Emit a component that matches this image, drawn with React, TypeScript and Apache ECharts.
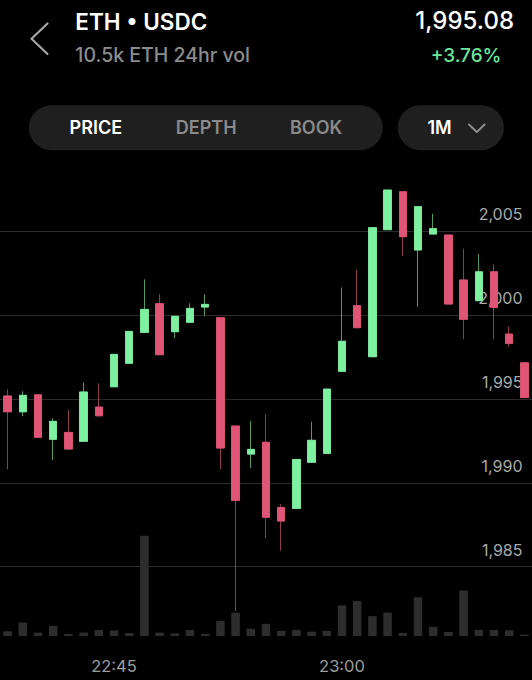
import React, { useEffect, useRef } from "react";
import * as echarts from "echarts";

// minute candles, 22:38 .. 23:12
const TIMES = [
  "22:38", "22:39", "22:40", "22:41", "22:42", "22:43", "22:44", "22:45", "22:46", "22:47",
  "22:48", "22:49", "22:50", "22:51", "22:52", "22:53", "22:54", "22:55", "22:56", "22:57",
  "22:58", "22:59", "23:00", "23:01", "23:02", "23:03", "23:04", "23:05", "23:06", "23:07",
  "23:08", "23:09", "23:10", "23:11", "23:12",
];
const OPEN = [
  1995.17, 1994.23, 1995.24, 1992.59, 1993.0, 1992.47, 1994.51, 1995.72, 1997.12, 1998.96,
  2000.67, 1999.0, 1999.56, 2000.47, 1999.83, 1993.38, 1991.71, 1992.41, 1988.53, 1988.47,
  1991.22, 1991.75, 1996.64, 2000.55, 1997.51, 2005.08, 2007.34, 2003.87, 2004.82, 2004.76,
  2002.08, 2000.85, 2002.57, 1998.86, 1997.15,
];
const CLOSE = [
  1994.23, 1995.21, 1992.71, 1993.66, 1992.01, 1995.41, 1993.99, 1997.65, 1999.02, 2000.33,
  1997.63, 1999.92, 2000.39, 2000.63, 1992.07, 1988.95, 1991.99, 1987.94, 1987.72, 1991.39,
  1992.53, 1995.58, 1998.43, 1999.24, 2005.2, 2007.44, 2004.66, 2006.45, 2005.14, 2000.65,
  1999.74, 2002.57, 2000.45, 1998.31, 1995.08,
];
const LOW = [
  1990.8, 1993.97, 1992.71, 1991.35, 1992.01, 1992.47, 1993.99, 1995.72, 1997.12, 1998.96,
  1997.63, 1998.62, 1999.56, 1999.95, 1990.8, 1982.35, 1990.88, 1986.69, 1985.95, 1988.47,
  1991.22, 1991.75, 1996.64, 1999.24, 1997.51, 2005.08, 2003.51, 2000.49, 2004.82, 2000.65,
  1998.55, 2000.85, 1998.55, 1998.1, 1995.08,
];
const HIGH = [
  1995.57, 1995.45, 1995.24, 1993.84, 1994.33, 1995.98, 1995.92, 1997.65, 1999.02, 2002.12,
  2001.23, 1999.92, 2000.69, 2001.23, 1999.83, 1993.38, 1993.68, 1994.09, 1988.73, 1991.39,
  1993.64, 1995.58, 2001.64, 2002.68, 2005.2, 2007.44, 2007.34, 2006.45, 2006.03, 2004.76,
  2003.95, 2003.63, 2003.03, 1999.3, 1997.15,
];
const VOLUME = [
  2.5, 7.1, 1.8, 5.4, 1.1, 1.8, 3.2, 2.9, 1.6, 52.7,
  1.8, 1.4, 3.2, 1.1, 8.0, 12.3, 3.8, 6.4, 2.7, 3.2,
  2.3, 2.7, 16.1, 18.4, 10.5, 12.3, 1.6, 20.4, 4.8, 2.1,
  23.9, 3.2, 3.2, 3.0, 0.7,
];
const TIME_TICKS = ["22:45", "23:00"];
const PRICE_TICKS = [1985, 1990, 1995, 2000, 2005];

const PAIR = "ETH • USDC";
const VOL_TEXT = "10.5k ETH 24hr vol";
const LAST_PRICE = "1,995.08";
const CHANGE = "+3.76%";
const TABS = ["PRICE", "DEPTH", "BOOK"];
const RANGE = "1M";

const UP = "#7ef0a2";
const DOWN = "#e05575";
const UP_WICK = "#4f9a68";
const DOWN_WICK = "#8e3a52";
const FONT = "Inter, 'Noto Sans', sans-serif";

export default function App() {
  const ref = useRef<HTMLDivElement>(null);

  useEffect(() => {
    document.body.style.margin = "0";
    document.body.style.background = "#000";
    if (!ref.current) return;
    const chart = echarts.init(ref.current, null, { renderer: "svg" });

    const full = TIMES.map((_, i) => [OPEN[i], CLOSE[i], LOW[i], HIGH[i]]);
    const bodies = TIMES.map((_, i) => [
      OPEN[i],
      CLOSE[i],
      Math.min(OPEN[i], CLOSE[i]),
      Math.max(OPEN[i], CLOSE[i]),
    ]);

    const fmt = (v: number) => {
      const s = String(Math.round(v));
      return s.slice(0, s.length - 3) + "," + s.slice(s.length - 3);
    };

    const tabX = [69.6, 175.8, 290];

    chart.setOption({
      animation: false,
      backgroundColor: "#000",
      grid: [
        { left: 0, width: 532, top: 147.1, height: 503.5 },
        { left: 0, width: 532, top: 522, height: 114 },
      ],
      xAxis: [
        {
          type: "category",
          gridIndex: 0,
          data: TIMES,
          axisLine: { show: false },
          axisTick: { show: false },
          axisLabel: { show: false },
          splitLine: { show: false },
        },
        {
          type: "category",
          gridIndex: 1,
          data: TIMES,
          axisLine: { show: false },
          axisTick: { show: false },
          splitLine: { show: false },
          axisLabel: {
            interval: (_i: number, v: string) => TIME_TICKS.includes(v),
            color: "#9c9c9c",
            fontFamily: FONT,
            fontSize: 16.5,
            margin: 30,
            verticalAlign: "middle",
          },
        },
      ],
      yAxis: [
        {
          type: "value",
          gridIndex: 0,
          position: "right",
          scale: true,
          min: 1980,
          max: 2010,
          interval: 5,
          axisLine: { show: false },
          axisTick: { show: false },
          splitLine: {
            show: true,
            lineStyle: {
              width: 1,
              color: ["rgba(0,0,0,0)", "#2a2a2a", "#2a2a2a", "#2a2a2a", "#2a2a2a", "#2a2a2a", "rgba(0,0,0,0)"],
            },
          },
          axisLabel: {
            inside: true,
            margin: 9.5,
            color: "#a8a8a8",
            fontFamily: FONT,
            fontSize: 16,
            lineHeight: 16,
            verticalAlign: "bottom",
            padding: [0, 0, 9, 0],
            formatter: (v: number) => (PRICE_TICKS.includes(v) ? fmt(v) : ""),
          },
        },
        {
          type: "value",
          gridIndex: 1,
          min: 0,
          max: 60,
          show: false,
          splitLine: { show: false },
        },
      ],
      series: [
        {
          type: "bar",
          xAxisIndex: 1,
          yAxisIndex: 1,
          data: VOLUME,
          barWidth: 8.5,
          itemStyle: { color: "#2d2d2d" },
          z: 1,
        },
        {
          type: "candlestick",
          xAxisIndex: 0,
          yAxisIndex: 0,
          data: full,
          barWidth: 8,
          itemStyle: {
            color: UP_WICK,
            color0: DOWN_WICK,
            borderColor: UP_WICK,
            borderColor0: DOWN_WICK,
            borderWidth: 1,
          },
          z: 3,
        },
        {
          type: "candlestick",
          xAxisIndex: 0,
          yAxisIndex: 0,
          data: bodies,
          barWidth: 8,
          itemStyle: {
            color: UP,
            color0: DOWN,
            borderColor: UP,
            borderColor0: DOWN,
            borderWidth: 0.8,
          },
          z: 4,
        },
      ],
      graphic: [
        {
          type: "polyline",
          shape: { points: [[47.5, 23.5], [31.5, 38.8], [47.5, 54]] },
          style: { stroke: "#a6a6a6", lineWidth: 2.2, fill: null, lineCap: "round", lineJoin: "round" },
        },
        {
          type: "text",
          x: 75.3,
          y: 21.7,
          style: {
            text: PAIR,
            fill: "#ffffff",
            font: `600 22.5px ${FONT}`,
            align: "left",
            verticalAlign: "middle",
            textAlign: "left",
            textVerticalAlign: "middle",
          },
        },
        {
          type: "text",
          x: 75.3,
          y: 55.3,
          style: {
            text: VOL_TEXT,
            fill: "#8c8c8c",
            font: `500 19.5px ${FONT}`,
            align: "left",
            verticalAlign: "middle",
            textAlign: "left",
            textVerticalAlign: "middle",
          },
        },
        {
          type: "text",
          x: 514,
          y: 20.4,
          style: {
            text: LAST_PRICE,
            fill: "#ffffff",
            font: `500 24px ${FONT}`,
            align: "right",
            verticalAlign: "middle",
            textAlign: "right",
            textVerticalAlign: "middle",
          },
        },
        {
          type: "text",
          x: 501.5,
          y: 55.6,
          style: {
            text: CHANGE,
            fill: "#6ee59c",
            font: `500 19px ${FONT}`,
            align: "right",
            verticalAlign: "middle",
            textAlign: "right",
            textVerticalAlign: "middle",
          },
        },
        {
          type: "rect",
          shape: { x: 28.8, y: 105.2, width: 354, height: 45, r: 22.5 },
          style: { fill: "#1f1f1f" },
        },
        {
          type: "rect",
          shape: { x: 397.7, y: 105.2, width: 106.2, height: 45, r: 22.5 },
          style: { fill: "#1f1f1f" },
        },
        ...TABS.map((t, i) => ({
          type: "text",
          x: tabX[i],
          y: 127.7,
          style: {
            text: t,
            fill: i === 0 ? "#ffffff" : "#8a8a8a",
            font: `600 18px ${FONT}`,
            align: "left",
            verticalAlign: "middle",
            textAlign: "left",
            textVerticalAlign: "middle",
          },
        })),
        {
          type: "text",
          x: 427.5,
          y: 127.7,
          style: {
            text: RANGE,
            fill: "#ffffff",
            font: `600 18px ${FONT}`,
            align: "left",
            verticalAlign: "middle",
            textAlign: "left",
            textVerticalAlign: "middle",
          },
        },
        {
          type: "polyline",
          shape: { points: [[469, 124.5], [476.8, 132], [484.6, 124.5]] },
          style: { stroke: "#8c8c8c", lineWidth: 2, fill: null, lineCap: "round", lineJoin: "round" },
        },
      ],
    });

    return () => chart.dispose();
  }, []);

  return <div ref={ref} style={{ width: 532, height: 680 }} />;
}
